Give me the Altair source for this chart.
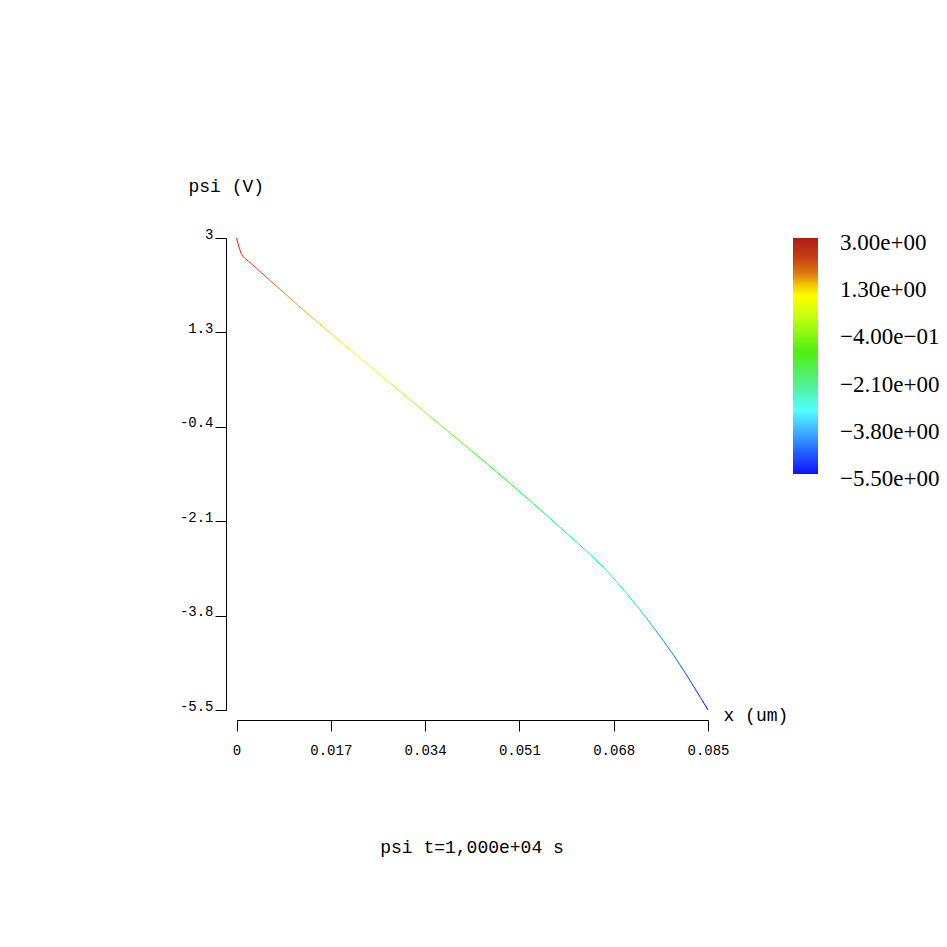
import altair as alt
import pandas as pd

# curve psi(x)
x_um = [0.0, 0.00052, 0.00083, 0.00113, 0.00173, 0.00263, 0.00582, 0.01146,
        0.03308, 0.04839, 0.05866, 0.06641, 0.07146, 0.07578, 0.07938, 0.08226, 0.085]
psi_v = [3.0, 2.815, 2.724, 2.676, 2.616, 2.541, 2.256, 1.757,
         -0.061, -1.340, -2.240, -2.961, -3.537, -4.095, -4.599, -5.050, -5.5]

x_ticks = [0, 0.017, 0.034, 0.051, 0.068, 0.085]
y_ticks = [3, 1.3, -0.4, -2.1, -3.8, -5.5]

cbar_values = [3.0, 1.3, -0.4, -2.1, -3.8, -5.5]
cbar_labels = ["3.00e+00", "1.30e+00", "\u22124.00e\u221201", "\u22122.10e+00",
               "\u22123.80e+00", "\u22125.50e+00"]

title_text = "psi t=1,000e+04 s"

MONO = "Liberation Mono"
SERIF = "Liberation Serif"

curve = pd.DataFrame({"x": x_um, "psi": psi_v})
cbar_df = pd.DataFrame({"top": [max(cbar_values)], "bottom": [min(cbar_values)]})
cbar_lab_df = pd.DataFrame({"v": cbar_values, "label": cbar_labels})
title_df = pd.DataFrame({"t": [title_text]})

line_grad = alt.Gradient(
    gradient="linear", x1=0, x2=0, y1=0, y2=1,
    stops=[
        alt.GradientStop(color="#ff0800", offset=0.0),
        alt.GradientStop(color="#ff3000", offset=0.06),
        alt.GradientStop(color="#ff8800", offset=0.13),
        alt.GradientStop(color="#ffff00", offset=0.25),
        alt.GradientStop(color="#80ff00", offset=0.375),
        alt.GradientStop(color="#00ff00", offset=0.5),
        alt.GradientStop(color="#00ff80", offset=0.625),
        alt.GradientStop(color="#00ffff", offset=0.75),
        alt.GradientStop(color="#0080ff", offset=0.875),
        alt.GradientStop(color="#0000ff", offset=1.0),
    ],
)

cbar_grad = alt.Gradient(
    gradient="linear", x1=0, x2=0, y1=0, y2=1,
    stops=[
        alt.GradientStop(color="#b01c10", offset=0.0),
        alt.GradientStop(color="#c43e14", offset=0.08),
        alt.GradientStop(color="#dc7a10", offset=0.15),
        alt.GradientStop(color="#f4c800", offset=0.2),
        alt.GradientStop(color="#ffff00", offset=0.245),
        alt.GradientStop(color="#c8ff10", offset=0.33),
        alt.GradientStop(color="#50f010", offset=0.48),
        alt.GradientStop(color="#50f090", offset=0.62),
        alt.GradientStop(color="#50ffff", offset=0.73),
        alt.GradientStop(color="#40b0ff", offset=0.82),
        alt.GradientStop(color="#2060ff", offset=0.91),
        alt.GradientStop(color="#1010ff", offset=1.0),
    ],
)

line = alt.Chart(curve).mark_line(color=line_grad, strokeWidth=1, interpolate="monotone").encode(
    x=alt.X("x:Q",
            scale=alt.Scale(domain=[0, 0.085], range=[10.5, 482], nice=False, zero=False),
            axis=alt.Axis(values=x_ticks, labelExpr="'' + datum.value", grid=False,
                          tickSize=11, labelPadding=12, labelFont=MONO, labelFontSize=14,
                          labelColor="black", domainColor="black", tickColor="black",
                          labelFlush=False, labelOverlap=False,
                          title="x (um)", titleFont=MONO, titleFontSize=18,
                          titleFontWeight="normal", titleColor="black",
                          titleX=497, titleY=-5, titleAlign="left",
                          titleBaseline="middle", titleAngle=0)),
    y=alt.Y("psi:Q",
            scale=alt.Scale(domain=[-5.5, 3], range=[472, 0], nice=False, zero=False),
            axis=alt.Axis(values=y_ticks, labelExpr="'' + datum.value", grid=False,
                          tickSize=11, labelPadding=2, labelFont=MONO, labelFontSize=14,
                          labelBaseline="alphabetic", labelColor="black",
                          domainColor="black", tickColor="black",
                          labelFlush=False, labelOverlap=False,
                          title="psi (V)", titleFont=MONO, titleFontSize=18,
                          titleFontWeight="normal", titleColor="black",
                          titleX=-38, titleY=-52, titleAlign="left",
                          titleBaseline="middle", titleAngle=0)),
)

cbar_scale = alt.Scale(domain=[-5.5, 3], range=[236, 0], nice=False, zero=False)

cbar = alt.Chart(cbar_df).mark_rect(fill=cbar_grad).encode(
    x=alt.value(567), x2=alt.value(592),
    y=alt.Y("top:Q", scale=cbar_scale, axis=None),
    y2="bottom:Q",
)

cbar_text = alt.Chart(cbar_lab_df).mark_text(
    align="left", baseline="alphabetic", dy=12, font=SERIF, fontSize=23, color="black"
).encode(
    x=alt.value(614),
    y=alt.Y("v:Q", scale=cbar_scale, axis=None),
    text="label:N",
)

title = alt.Chart(title_df).mark_text(
    align="center", baseline="middle", font=MONO, fontSize=18, color="black"
).encode(
    x=alt.value(246), y=alt.value(610), text="t:N"
)

chart = alt.layer(line, cbar, cbar_text, title).resolve_scale(
    y="independent"
).properties(
    width=482, height=482,
    autosize=alt.AutoSizeParams(type="none"),
    padding={"left": 218, "top": 230, "right": 231, "bottom": 219},
    background="white",
).configure_view(stroke=None)

chart.save("out.html", embed_options={"renderer": "svg", "actions": False})
